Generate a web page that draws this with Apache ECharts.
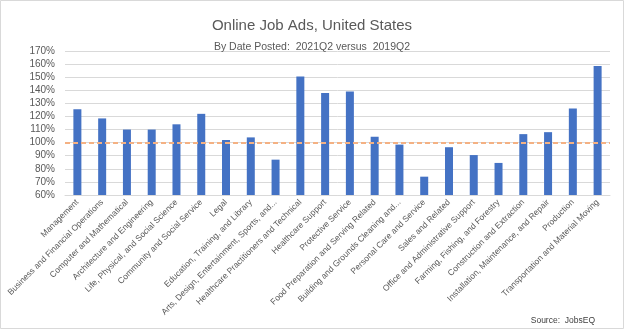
<!DOCTYPE html>
<html>
<head>
<meta charset="utf-8">
<script src="https://cdn.jsdelivr.net/npm/echarts@6/dist/echarts.min.js"></script>
<style>
  html, body { margin: 0; padding: 0; background: #fff; }
  #chart { width: 624px; height: 329px; }
</style>
</head>
<body>
<div id="chart"></div>
<script>
// Occupation groups (axis labels as shown on the chart)
const categories = [
  'Management',
  'Business and Financial Operations',
  'Computer and Mathematical',
  'Architecture and Engineering',
  'Life, Physical, and Social Science',
  'Community and Social Service',
  'Legal',
  'Education, Training, and Library',
  'Arts, Design, Entertainment, Sports, and...',
  'Healthcare Practitioners and Technical',
  'Healthcare Support',
  'Protective Service',
  'Food Preparation and Serving Related',
  'Building and Grounds Cleaning and...',
  'Personal Care and Service',
  'Sales and Related',
  'Office and Administrative Support',
  'Farming, Fishing, and Forestry',
  'Construction and Extraction',
  'Installation, Maintenance, and Repair',
  'Production',
  'Transportation and Material Moving'
];

// 2021Q2 job ads as a percentage of 2019Q2
const ratioPct = [
  125.5, 118.5, 110, 110, 114, 122, 102, 104, 87, 150.5,
  138, 139, 104.5, 98.5, 74, 96.5, 90.5, 84.5, 106.5, 108, 126, 158.5
];

// Reference level (2019Q2 = 100%)
const baselinePct = 100;

// Value axis range
const yMin = 60;
const yMax = 170;
const yStep = 10;

const FONT = "'Liberation Sans', Arial, sans-serif";
const GREY = '#595959';

const chart = echarts.init(document.getElementById('chart'), null, { renderer: 'canvas' });

chart.setOption({
  animation: false,
  backgroundColor: '#ffffff',
  title: [
    {
      text: 'Online Job Ads, United States',
      left: 'center',
      top: 13,
      textStyle: { fontFamily: FONT, fontSize: 15, fontWeight: 'normal', color: GREY }
    },
    {
      text: 'By Date Posted:  2021Q2 versus  2019Q2',
      left: 'center',
      top: 37,
      textStyle: { fontFamily: FONT, fontSize: 10.5, fontWeight: 'normal', color: GREY }
    },
    {
      text: 'Source:  JobsEQ',
      right: 24,
      top: 311,
      textStyle: { fontFamily: FONT, fontSize: 8.5, fontWeight: 'normal', color: '#404040' }
    }
  ],
  graphic: [
    {
      type: 'rect',
      shape: { x: 0.5, y: 0.5, width: 623, height: 328 },
      style: { fill: 'none', stroke: '#d9d9d9', lineWidth: 1 },
      silent: true
    }
  ],
  grid: { left: 65, right: 14, top: 51, bottom: 134, containLabel: false },
  xAxis: {
    type: 'category',
    data: categories,
    axisLine: { show: true, lineStyle: { color: '#d9d9d9', width: 1 } },
    axisTick: { show: false },
    axisLabel: {
      interval: 0,
      rotate: 45,
      margin: 6,
      fontFamily: FONT,
      fontSize: 8.5,
      color: GREY
    }
  },
  yAxis: {
    type: 'value',
    min: yMin,
    max: yMax,
    interval: yStep,
    axisLine: { show: false },
    axisTick: { show: false },
    splitLine: { lineStyle: { color: '#d9d9d9', width: 1 } },
    axisLabel: {
      formatter: '{value}%',
      margin: 10,
      fontFamily: FONT,
      fontSize: 10,
      color: GREY
    }
  },
  series: [
    {
      type: 'bar',
      data: ratioPct,
      barWidth: 8,
      itemStyle: { color: '#4472C4' },
      markLine: {
        silent: true,
        symbol: ['none', 'none'],
        label: { show: false },
        lineStyle: { color: '#F4B183', type: [5, 3], width: 2, opacity: 1 },
        data: [{ yAxis: baselinePct }]
      }
    }
  ]
});
</script>
</body>
</html>
